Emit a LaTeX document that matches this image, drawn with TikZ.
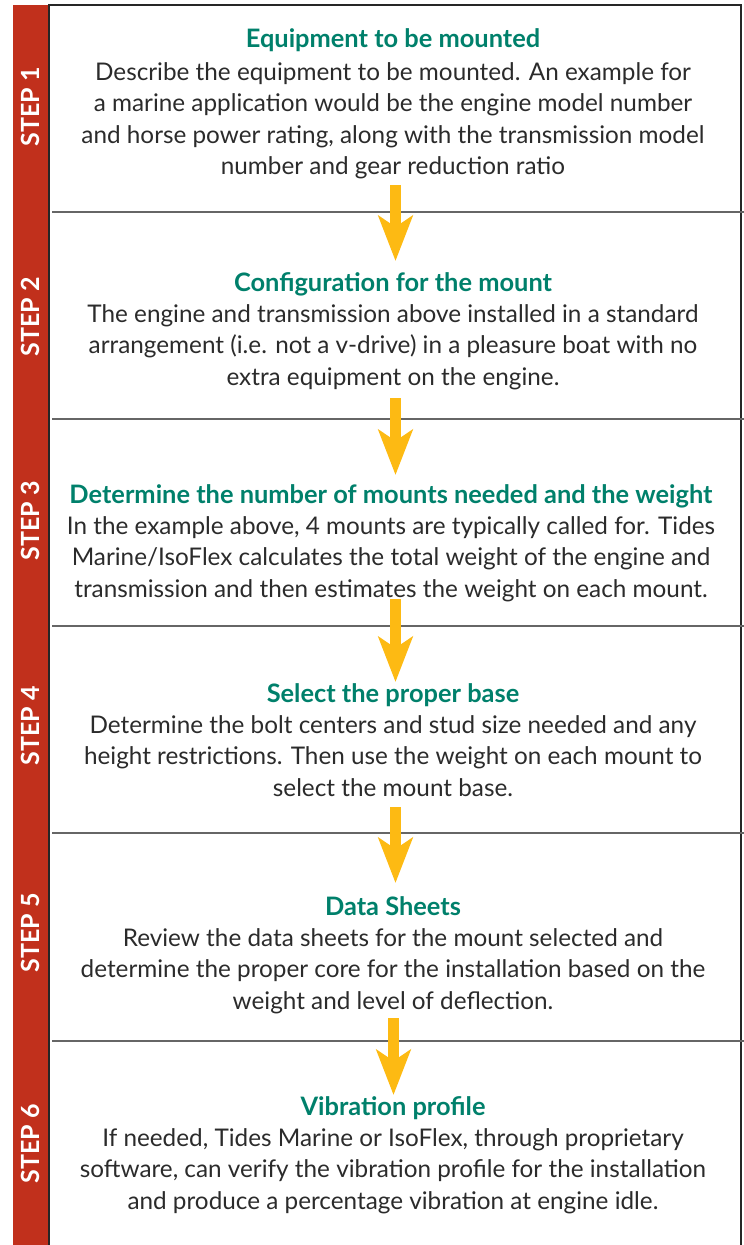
\documentclass[tikz,border=0pt]{standalone}
\usepackage{fontspec}
\setmainfont{Lato}
\usepackage{tikz}
\usetikzlibrary{arrows.meta, positioning}
\definecolor{StepRed}{HTML}{C1301C}
\definecolor{HeadGreen}{HTML}{00806B}
\definecolor{ArrowGold}{HTML}{FDBA13}
\definecolor{RuleGray}{HTML}{666666}
\definecolor{BodyGray}{HTML}{2B2B2B}
\tikzset{
  steplabel/.style={rotate=90, text=white, inner sep=0pt, font=\fontsize{25}{28}\selectfont\bfseries},
  headtext/.style={anchor=base, inner sep=0pt, text=HeadGreen, font=\fontsize{25.4}{31}\selectfont\bfseries},
  bodytext/.style={anchor=north, inner sep=0pt, align=center, text=BodyGray, font=\fontsize{24.3}{31.5}\selectfont, execute at begin node=\strut},
  flowarrow/.style={draw=ArrowGold, line width=11pt, -{Stealth[length=45pt, width=34pt, inset=11pt]}},
  rowrule/.style={draw=RuleGray, line width=1.2pt}
}
\begin{document}
\begin{tikzpicture}[x=1pt, y=1pt]
  \useasboundingbox (0,0) rectangle (744,-1245);
  % frame and red bar
  \fill[StepRed] (13,-5) rectangle (48,-1245);
  \draw[line width=1.2pt, black!85] (49,-1245) -- (49,-5) -- (741,-5) -- (741,-1245);
  \foreach \y in {212,419,626,833,1041}
    \draw[rowrule] (52,-\y) -- (744,-\y);

  % step labels
  \node[steplabel] (lab1) at (30.5,-107) {STEP 1};
  \node[steplabel] (lab2) at (30.5,-317) {STEP 2};
  \node[steplabel] (lab3) at (30.5,-521) {STEP 3};
  \node[steplabel] (lab4) at (30.5,-726) {STEP 4};
  \node[steplabel] (lab5) at (30.5,-933) {STEP 5};
  \node[steplabel] (lab6) at (30.5,-1144) {STEP 6};

  % headings
  \node[headtext] (h1) at (393,-47) {Equipment to be mounted};
  \node[headtext] (h2) at (393,-291) {Configuration for the mount};
  \node[headtext] (h3) at (391,-503) {Determine the number of mounts needed and the weight};
  \node[headtext] (h4) at (393,-702) {Select the proper base};
  \node[headtext] (h5) at (393,-915) {Data Sheets};
  \node[headtext] (h6) at (393,-1115) {Vibration profile};

  % descriptions
  \node[bodytext, below=15pt of h1.base] (b1) {Describe the equipment to be mounted. An example for\\a marine application would be the engine model number\\and horse power rating, along with the transmission model\\number and gear reduction ratio};
  \node[bodytext, below=13pt of h2.base] (b2) {The engine and transmission above installed in a standard\\arrangement (i.e. not a v-drive) in a pleasure boat with no\\extra equipment on the engine.};
  \node[bodytext, below=13pt of h3.base] (b3) {In the example above, 4 mounts are typically called for. Tides\\Marine/IsoFlex calculates the total weight of the engine and\\transmission and then estimates the weight on each mount.};
  \node[bodytext, below=13pt of h4.base] (b4) {Determine the bolt centers and stud size needed and any\\height restrictions. Then use the weight on each mount to\\select the mount base.};
  \node[bodytext, below=13pt of h5.base] (b5) {Review the data sheets for the mount selected and\\determine the proper core for the installation based on the\\weight and level of deflection.};
  \node[bodytext, below=13pt of h6.base] (b6) {If needed, Tides Marine or IsoFlex, through proprietary\\software, can verify the vibration profile for the installation\\and produce a percentage vibration at engine idle.};

  % arrows between the steps
  \coordinate (a1s) at (395.5,-185);  \coordinate (a1e) at (395.5,-261);
  \coordinate (a2s) at (395.5,-398);  \coordinate (a2e) at (395.5,-475);
  \coordinate (a3s) at (395.5,-599);  \coordinate (a3e) at (395.5,-682);
  \coordinate (a4s) at (395.5,-807);  \coordinate (a4e) at (395.5,-883);
  \coordinate (a5s) at (393.5,-1018); \coordinate (a5e) at (393.5,-1095);
  \foreach \i in {1,...,5}
    \draw[flowarrow] (a\i s) -- (a\i e);
\end{tikzpicture}
\end{document}
